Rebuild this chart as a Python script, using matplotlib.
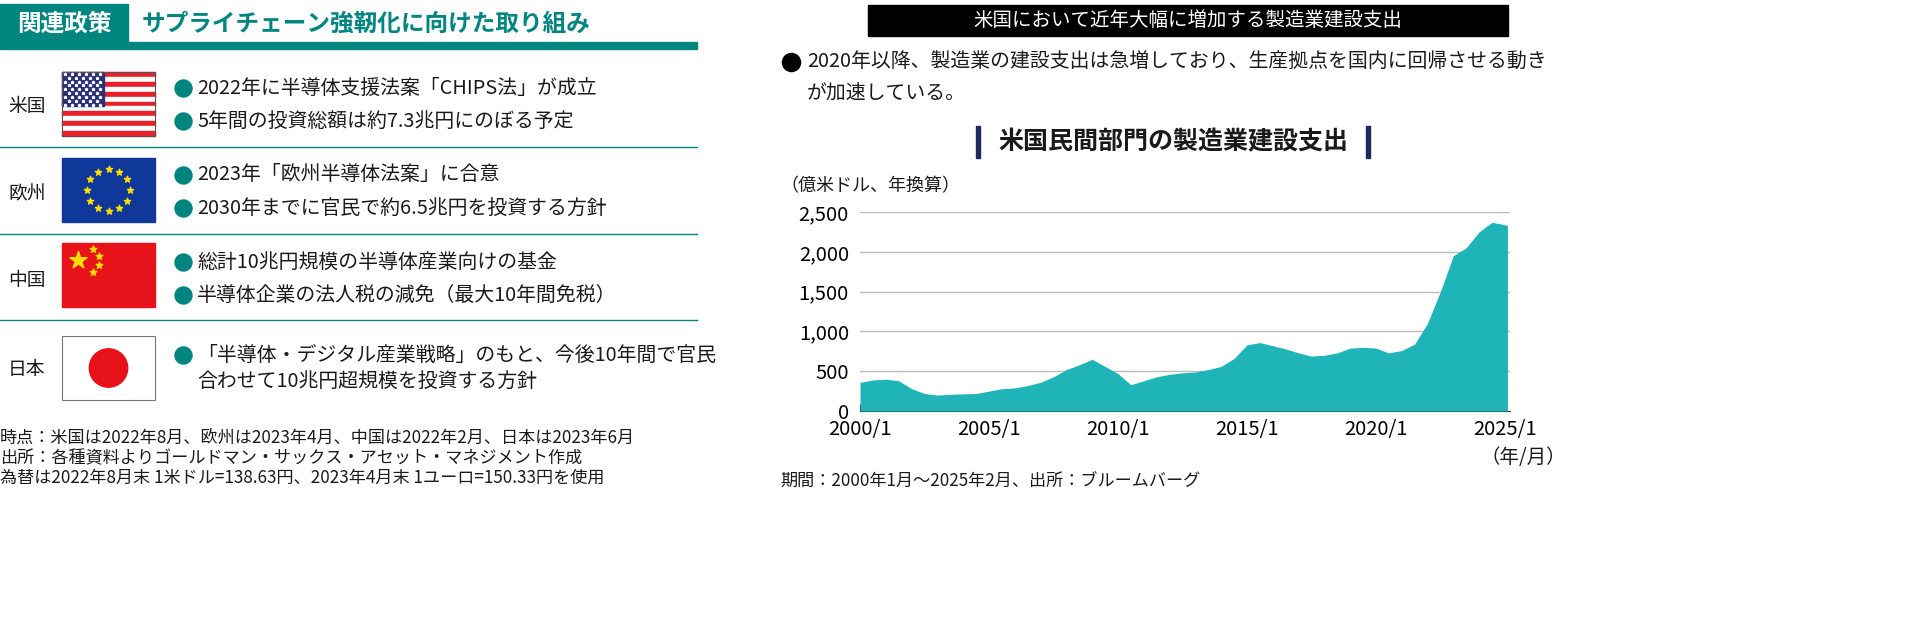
import matplotlib
matplotlib.use("Agg")
import matplotlib.pyplot as plt
import matplotlib.patches as mpatches
import numpy as np

plt.rcParams["font.family"] = ["Noto Sans CJK JP", "DejaVu Sans"]

TEAL = "#00857f"
AREA = "#1fb5b8"
W, H = 1920, 635

# ---- data ----
YEARS = [2000.0, 2000.5, 2001.0, 2001.5, 2002.0, 2002.5, 2003.0, 2003.5, 2004.0, 2004.5,
         2005.0, 2005.5, 2006.0, 2006.5, 2007.0, 2007.5, 2008.0, 2008.5, 2009.0, 2009.5,
         2010.0, 2010.5, 2011.0, 2011.5, 2012.0, 2012.5, 2013.0, 2013.5, 2014.0, 2014.5,
         2015.0, 2015.5, 2016.0, 2016.5, 2017.0, 2017.5, 2018.0, 2018.5, 2019.0, 2019.5,
         2020.0, 2020.5, 2021.0, 2021.5, 2022.0, 2022.5, 2023.0, 2023.5, 2024.0, 2024.5,
         2025.0, 2025.1]
SPENDING = [360, 390, 400, 380, 280, 220, 200, 210, 215, 220,
            250, 280, 290, 320, 360, 430, 520, 580, 650, 560,
            470, 330, 380, 430, 460, 480, 490, 520, 560, 660,
            830, 860, 820, 780, 730, 690, 700, 730, 790, 800,
            790, 730, 760, 840, 1100, 1500, 1950, 2050, 2250, 2370,
            2340, 2330]
Y_TICKS = [0, 500, 1000, 1500, 2000, 2500]
X_TICKS = [2000, 2005, 2010, 2015, 2020, 2025]
X_LABELS = ["2000/1", "2005/1", "2010/1", "2015/1", "2020/1", "2025/1"]

ROW_LABELS = ["米国", "欧州", "中国", "日本"]
ROW_LINES = [
    ["2022年に半導体支援法案「CHIPS法」が成立", "5年間の投資総額は約7.3兆円にのぼる予定"],
    ["2023年「欧州半導体法案」に合意", "2030年までに官民で約6.5兆円を投資する方針"],
    ["総計10兆円規模の半導体産業向けの基金", "半導体企業の法人税の減免（最大10年間免税）"],
    ["「半導体・デジタル産業戦略」のもと、今後10年間で官民", "合わせて10兆円超規模を投資する方針"],
]
LEFT_NOTES = [
    "時点：米国は2022年8月、欧州は2023年4月、中国は2022年2月、日本は2023年6月",
    "出所：各種資料よりゴールドマン・サックス・アセット・マネジメント作成",
    "為替は2022年8月末 1米ドル=138.63円、2023年4月末 1ユーロ=150.33円を使用",
]

fig = plt.figure(figsize=(W / 100, H / 100), dpi=100)
bg = fig.add_axes([0, 0, 1, 1])
bg.set_xlim(0, W)
bg.set_ylim(H, 0)
bg.axis("off")


def txt(x, y, s, **kw):
    kw.setdefault("fontsize", 14)
    kw.setdefault("va", "center")
    kw.setdefault("color", "#1a1a1a")
    bg.text(x, y, s, **kw)


# ---- left panel header ----
bg.add_patch(mpatches.Rectangle((0, 4), 128, 40, color=TEAL))
bg.add_patch(mpatches.Rectangle((0, 42), 697, 7, color=TEAL))
txt(64, 24, "関連政策", color="white", fontsize=17, ha="center", fontweight="bold")
txt(142, 24, "サプライチェーン強靭化に向けた取り組み", color=TEAL, fontsize=17, fontweight="bold")

# ---- flags ----
def us_flag(x, y, w, h):
    sh = h / 13
    for i in range(13):
        bg.add_patch(mpatches.Rectangle((x, y + i * sh), w, sh,
                                        color="#e8202a" if i % 2 == 0 else "white"))
    cw, ch = w * 0.45, sh * 7
    bg.add_patch(mpatches.Rectangle((x, y), cw, ch, color="#2a2f7a"))
    for r in range(9):
        n = 6 if r % 2 == 0 else 5
        off = 0 if r % 2 == 0 else cw / 12
        xs = x + cw / 12 + off + np.arange(n) * cw / 6
        bg.scatter(xs, [y + (r + 0.5) * ch / 9] * n, s=3, marker="*", color="white", zorder=5)
    bg.add_patch(mpatches.Rectangle((x, y), w, h, fill=False, ec="#555", lw=0.8))


def eu_flag(x, y, w, h):
    bg.add_patch(mpatches.Rectangle((x, y), w, h, color="#10389a"))
    ang = np.linspace(0, 2 * np.pi, 13)[:-1]
    r = h * 0.33
    bg.scatter(x + w / 2 + r * np.cos(ang), y + h / 2 + r * np.sin(ang),
               s=22, marker="*", color="#ffde00", zorder=5)


def cn_flag(x, y, w, h):
    bg.add_patch(mpatches.Rectangle((x, y), w, h, color="#e8121a"))
    bg.scatter([x + w * 0.17], [y + h * 0.27], s=170, marker="*", color="#ffde00", zorder=5)
    sx = [x + w * 0.33, x + w * 0.40, x + w * 0.40, x + w * 0.33]
    sy = [y + h * 0.10, y + h * 0.20, y + h * 0.35, y + h * 0.45]
    bg.scatter(sx, sy, s=25, marker="*", color="#ffde00", zorder=5)


def jp_flag(x, y, w, h):
    bg.add_patch(mpatches.Rectangle((x, y), w, h, fc="white", ec="#777", lw=0.8))
    bg.add_patch(mpatches.Circle((x + w / 2, y + h / 2), h * 0.3, color="#e8121a"))


FLAG_Y = [72, 158, 243, 336]
FLAG_FUNCS = [us_flag, eu_flag, cn_flag, jp_flag]
for fy, f in zip(FLAG_Y, FLAG_FUNCS):
    f(62, fy, 93, 64)

LINE_Y = [(88, 121), (175, 208), (262, 295), (355, 381)]
for i, (label, lines) in enumerate(zip(ROW_LABELS, ROW_LINES)):
    y0, y1 = LINE_Y[i]
    txt(8, (y0 + y1) / 2 + 2, label, fontsize=13.5)
    bg.scatter([183], [y0], s=150, color=TEAL, zorder=5)
    txt(197, y0, lines[0], fontsize=14.3)
    if i < 3:
        bg.scatter([183], [y1], s=150, color=TEAL, zorder=5)
    txt(197, y1, lines[1], fontsize=14.3)
for sy in [147, 234, 320]:
    bg.plot([0, 697], [sy, sy], color=TEAL, lw=1)

for k, note in enumerate(LEFT_NOTES):
    txt(0, 438 + k * 20, note, fontsize=12.3)

# ---- right panel ----
bg.add_patch(mpatches.Rectangle((868, 5), 640, 31, color="black"))
txt(1188, 21, "米国において近年大幅に増加する製造業建設支出", color="white", fontsize=14, ha="center")
bg.scatter([791], [62], s=170, color="black", zorder=5)
txt(807, 62, "2020年以降、製造業の建設支出は急増しており、生産拠点を国内に回帰させる動き", fontsize=14.3)
txt(807, 94, "が加速している。", fontsize=14.3)
txt(1173, 142, "米国民間部門の製造業建設支出", fontsize=18, ha="center", fontweight="bold")
for bx in [978, 1368]:
    bg.add_patch(mpatches.Rectangle((bx - 2, 126), 4, 32, color="#1f2a5c"))
txt(780, 186, "（億米ドル、年換算）", fontsize=13)
txt(780, 482, "期間：2000年1月～2025年2月、出所：ブルームバーグ", fontsize=12.3)

ax = fig.add_axes([860 / W, 1 - 411 / H, 650 / W, 199 / H])
ax.fill_between(YEARS, SPENDING, 0, color=AREA, lw=0, zorder=3)
ax.set_xlim(2000, 2025.2)
ax.set_ylim(0, 2500)
ax.set_yticks(Y_TICKS)
ax.set_yticklabels([f"{v:,}" for v in Y_TICKS], fontsize=14.5)
ax.set_xticks(X_TICKS)
ax.set_xticklabels(X_LABELS, fontsize=14.5)
ax.grid(axis="y", color="#bbbbbb", lw=1, zorder=0)
ax.tick_params(axis="y", length=0, pad=8)
ax.tick_params(axis="x", length=5, direction="in", color="#333", pad=6)
for s in ["top", "right", "left"]:
    ax.spines[s].set_visible(False)
ax.spines["bottom"].set_color("#333")
txt(1480, 458, "（年/月）", fontsize=14)

fig.savefig("out.png", dpi=100, facecolor="white")
